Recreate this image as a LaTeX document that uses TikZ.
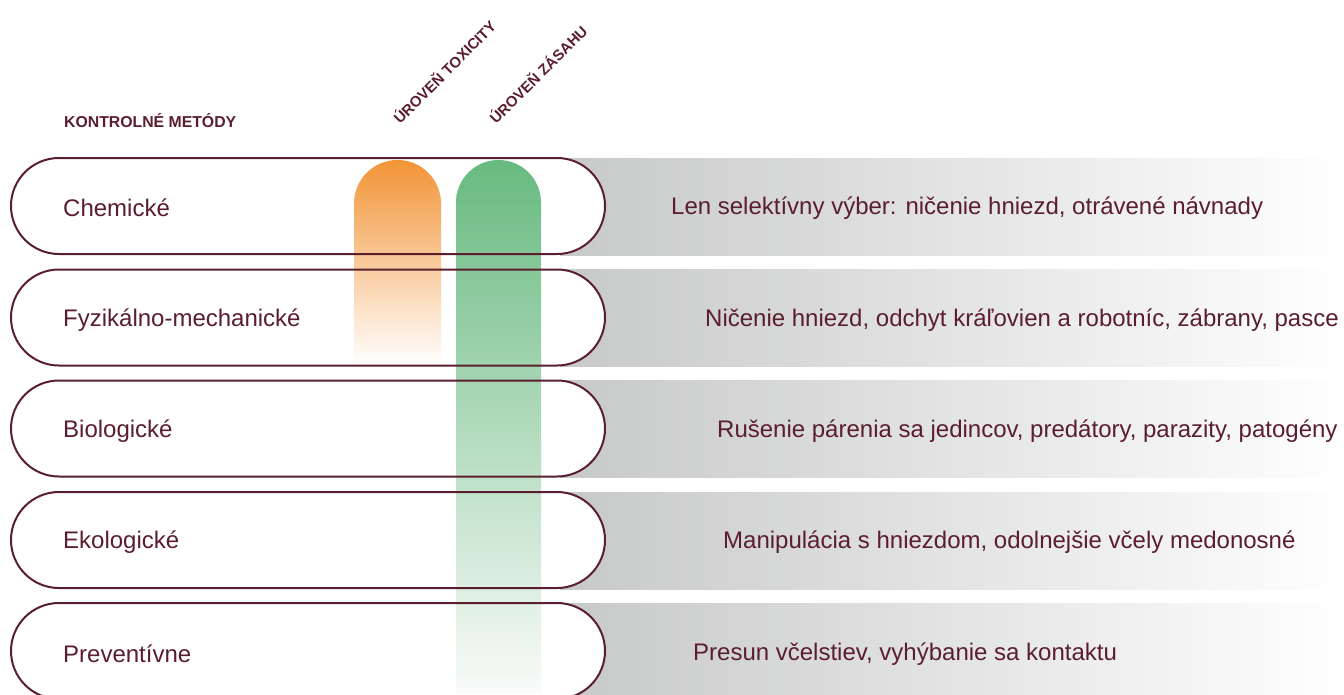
\documentclass[tikz,border=0pt]{standalone}
\usepackage{fontspec}
\setmainfont{Liberation Sans}
\usetikzlibrary{shapes.misc}
\definecolor{maroon}{RGB}{91,30,47}
\definecolor{bandgray}{RGB}{199,200,200}
\definecolor{orangetop}{RGB}{242,148,54}
\definecolor{greentop}{RGB}{104,186,128}
\definecolor{greenbot}{RGB}{250,251,250}
\tikzset{
  pillfill/.style={rounded rectangle, minimum width=594pt, minimum height=96pt, inner sep=0pt, fill=white},
  pillline/.style={rounded rectangle, minimum width=594pt, minimum height=96pt, inner sep=0pt, draw=maroon, line width=2pt},
  lefttxt/.style={anchor=west, text=maroon, inner sep=0pt, font=\fontsize{24}{28}\selectfont},
  righttxt/.style={anchor=west, text=maroon, inner sep=0pt, font=\fontsize{24}{28}\selectfont},
  headtxt/.style={anchor=base west, text=maroon, inner sep=0pt, font=\bfseries\fontsize{15.8}{18}\selectfont},
  rottxt/.style={anchor=base west, rotate=45, text=maroon, inner sep=0pt, font=\bfseries\fontsize{15}{18}\selectfont},
}
\begin{document}
\begin{tikzpicture}[x=1pt,y=1pt]
\useasboundingbox (0,0) rectangle (1344,-694);
% gray bands
\foreach \cy in {206,317.5,428.5,540,651}{
  \shade[left color=bandgray, right color=white] (560,-\cy+48) rectangle (1344,-\cy-49);
}
% pill fills
\node[pillfill] (f1) at (308,-206) {};
\node[pillfill] (f2) at (308,-317.5) {};
\node[pillfill] (f3) at (308,-428.5) {};
\node[pillfill] (f4) at (308,-540) {};
\node[pillfill] (f5) at (308,-651) {};
% bars
\shade[top color=orangetop, bottom color=white] (354,-365) -- (354,-203.5) arc[start angle=180, end angle=0, radius=43.5] -- (441,-365) -- cycle;
\shade[top color=greentop, bottom color=greenbot] (456,-694) -- (456,-202.5) arc[start angle=180, end angle=0, radius=42.5] -- (541,-694) -- cycle;
% pill outlines
\node[pillline] (p1) at (308,-206) {};
\node[pillline] (p2) at (308,-317.5) {};
\node[pillline] (p3) at (308,-428.5) {};
\node[pillline] (p4) at (308,-540) {};
\node[pillline] (p5) at (308,-651) {};
% left labels
\node[lefttxt] (l1) at (63,-208) {Chemické};
\node[lefttxt] (l2) at (63,-320) {Fyzikálno-mechanické};
\node[lefttxt] (l3) at (63,-431) {Biologické};
\node[lefttxt] (l4) at (63,-542) {Ekologické};
\node[lefttxt] (l5) at (63,-654) {Preventívne};
% right labels
\node[righttxt] (r1) at (671,-208) {Len selektívny výber: ničenie hniezd, otrávené návnady};
\node[righttxt] (r2) at (705,-320) {Ničenie hniezd, odchyt kráľovien a robotníc, zábrany, pasce};
\node[righttxt] (r3) at (717,-431) {Rušenie párenia sa jedincov, predátory, parazity, patogény};
\node[righttxt] (r4) at (723,-542) {Manipulácia s hniezdom, odolnejšie včely medonosné};
\node[righttxt] (r5) at (693,-654) {Presun včelstiev, vyhýbanie sa kontaktu};
% headers
\node[headtxt] (h0) at (64,-127) {KONTROLNÉ METÓDY};
\node[rottxt] (h1) at (400,-125) {ÚROVEŇ TOXICITY};
\node[rottxt] (h2) at (496,-125) {ÚROVEŇ ZÁSAHU};
\end{tikzpicture}
\end{document}
